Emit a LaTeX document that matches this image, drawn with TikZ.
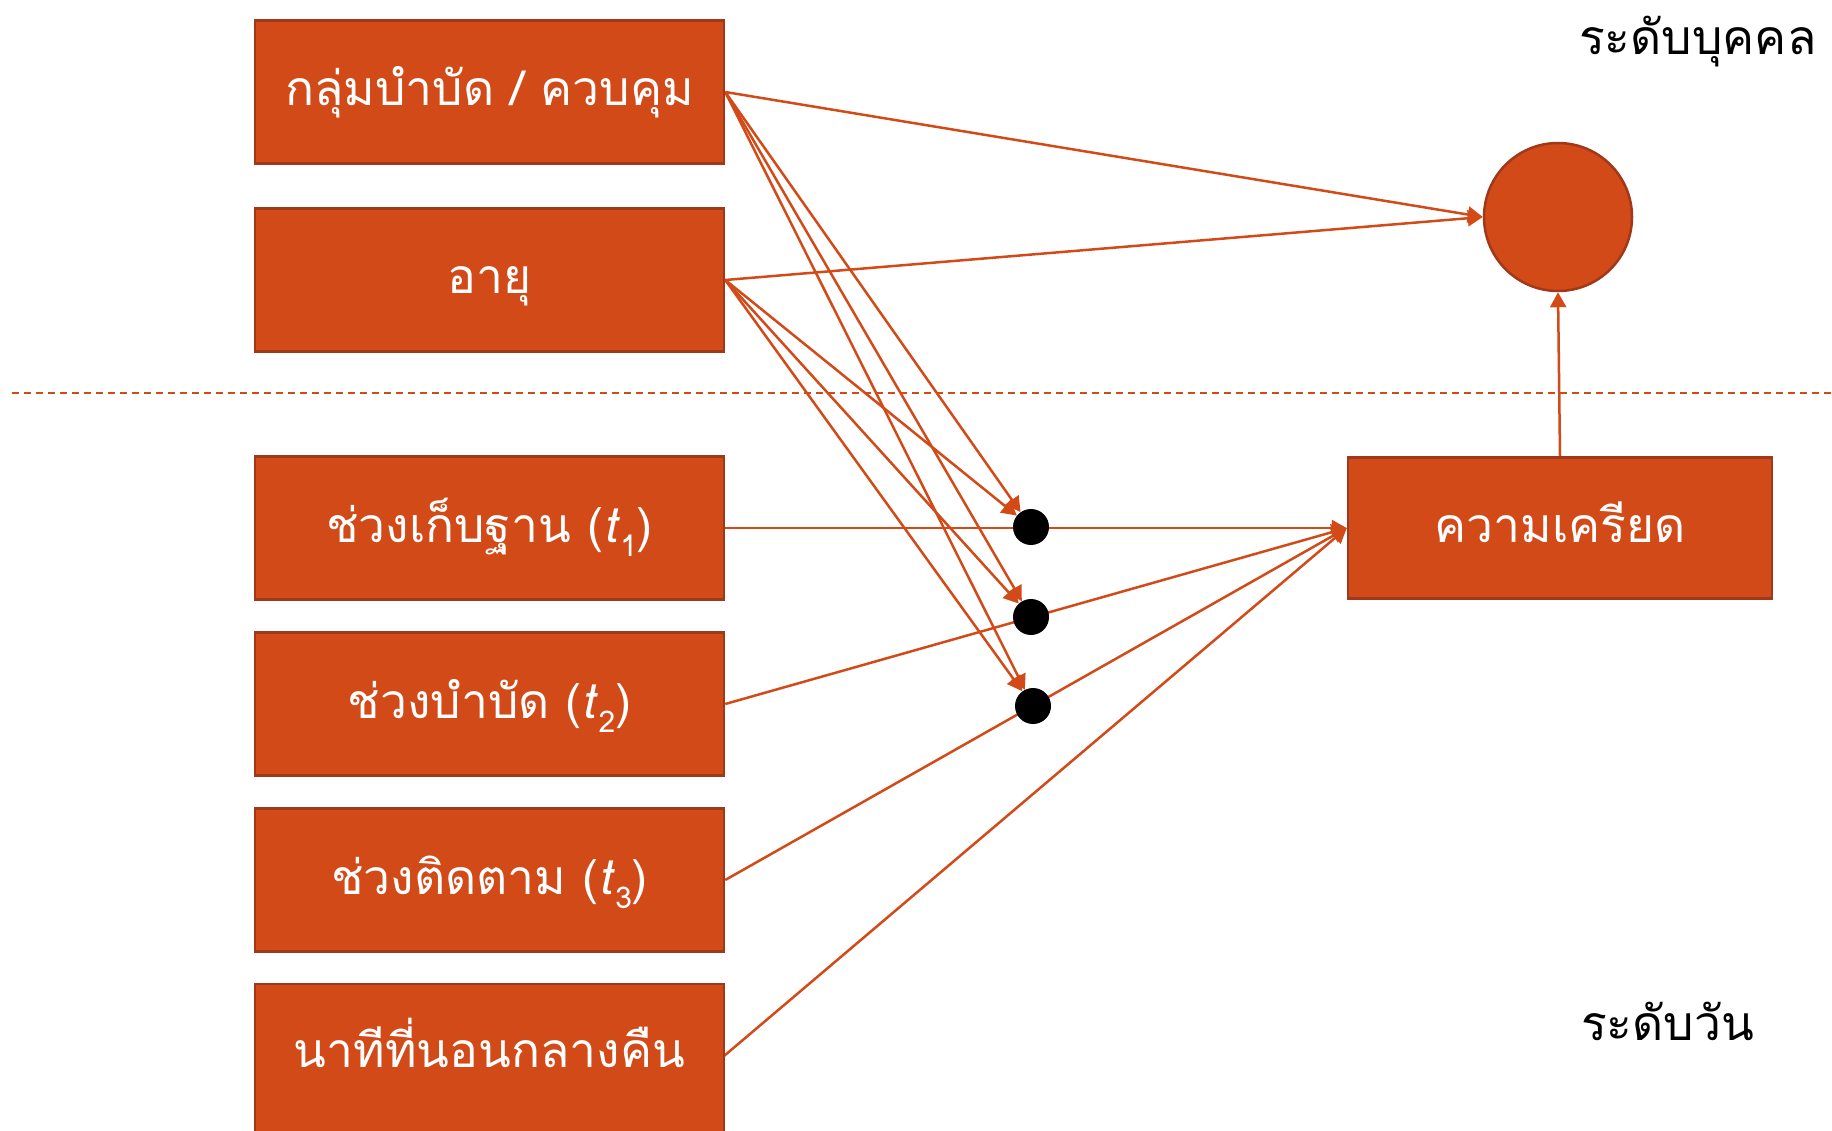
\documentclass[tikz,border=0pt]{standalone}
\usepackage{fontspec}
\newfontfamily\thai[Script=Thai]{Loma}
\usetikzlibrary{arrows.meta}
\definecolor{boxfill}{HTML}{D24A18}
\definecolor{boxline}{HTML}{A0381A}
\newcommand\tsub[1]{\textit{t}\raisebox{-0.3em}{\fontsize{30}{30}\selectfont #1}}
\pgfdeclarelayer{bg}
\pgfsetlayers{bg,main}
\begin{document}
\begin{tikzpicture}[x=1pt,y=-1pt,
  vbox/.style={draw=boxline, line width=2.5pt, fill=boxfill, minimum width=469pt, minimum height=143pt,
    inner sep=0pt, text=white, text height=40pt, text depth=12pt, font=\thai\fontsize{48}{54}\selectfont},
  dotn/.style={circle, fill=black, minimum size=36pt, inner sep=0pt},
  conn/.style={draw=boxfill, line width=2.5pt, -{Triangle[length=15pt,width=16pt]}},
  lvl/.style={anchor=base west, inner sep=0pt, font=\thai\fontsize{48}{54}\selectfont}]
\useasboundingbox (0,0) rectangle (1832,1131);
\clip (0,0) rectangle (1832,1131);
% boxes
\node[vbox] (g)  at (489.5,92)  {กลุ่มบำบัด / ควบคุม};
\node[vbox] (a)  at (489.5,280) {อายุ};
\node[vbox] (t1) at (489.5,528) {ช่วงเก็บฐาน (\tsub{1})};
\node[vbox] (t2) at (489.5,704) {ช่วงบำบัด (\tsub{2})};
\node[vbox] (t3) at (489.5,880) {ช่วงติดตาม (\tsub{3})};
\node[vbox, minimum height=160pt, text height=30pt, text depth=24pt] (sl) at (489.5,1064) {นาทีที่นอนกลางคืน};
\coordinate (slout) at (724,1056);
\node[vbox, minimum width=424pt, minimum height=141pt] (s) at (1560,528) {ความเครียด};
\node[circle, draw=boxline, line width=2.5pt, fill=boxfill, minimum size=148pt, inner sep=0pt] (c) at (1558,217) {};
% moderation dots
\node[dotn] (d1) at (1031,527) {};
\node[dotn] (d2) at (1031,617) {};
\node[dotn] (d3) at (1033,706) {};
% level labels
\node[lvl] (lv1) at (1579,55) {ระดับบุคคล};
\node[lvl] (lv2) at (1581,1040) {ระดับวัน};
% divider
\coordinate (dl) at (12,393);
\coordinate (dr) at (1832,393);
\begin{pgfonlayer}{bg}
\draw[boxfill, line width=1.3pt, dash pattern=on 7pt off 5pt] (dl) -- (dr);
\draw[conn] (g.east) -- (c.west);
\draw[conn] (a.east) -- (c.west);
\draw[conn] (g.east) -- (d1);
\draw[conn] (g.east) -- (d2);
\draw[conn] (g.east) -- (d3);
\draw[conn] (a.east) -- (d1);
\draw[conn] (a.east) -- (d2);
\draw[conn] (a.east) -- (d3);
\draw[conn] (t1.east) -- (s.west);
\draw[conn] (t2.east) -- (s.west);
\draw[conn] (t3.east) -- (s.west);
\draw[conn] (slout) -- (s.west);
\draw[conn] (s.north) -- (c.south);
\end{pgfonlayer}
\end{tikzpicture}
\end{document}
